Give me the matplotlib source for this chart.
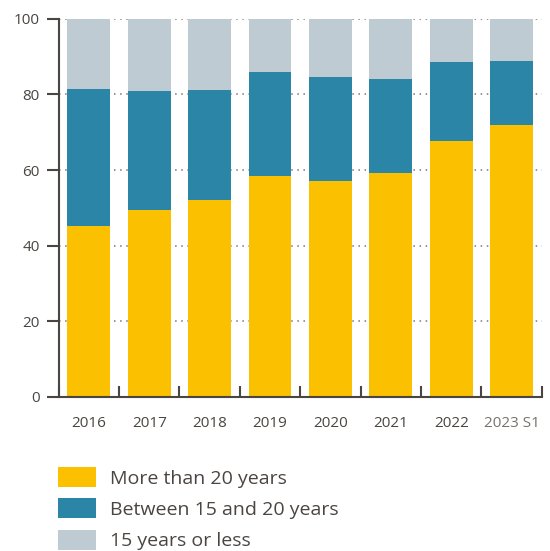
import matplotlib
matplotlib.use("Agg")
import matplotlib.pyplot as plt
import numpy as np

plt.rcParams['font.family'] = ['Open Sans', 'DejaVu Sans']

# share of portfolio by remaining maturity, in %
periods = ['2016', '2017', '2018', '2019', '2020', '2021', '2022', '2023 S1']
more_than_20 = [45.2, 49.4, 52.1, 58.4, 57.1, 59.2, 67.7, 71.9]
between_15_20 = [36.2, 31.5, 29.1, 27.5, 27.5, 24.9, 20.9, 16.9]
less_than_15 = [18.6, 19.1, 18.8, 14.1, 15.4, 15.9, 11.4, 11.2]
series_labels = ['More than 20 years', 'Between 15 and 20 years', '15 years or less']

YELLOW = '#FBC000'
BLUE = '#2A85A7'
GREY = '#BECBD3'
TEXT = '#4A4540'

fig = plt.figure(figsize=(5.5, 5.51), dpi=100)
ax = fig.add_axes([0.1067, 0.2795, 0.8784, 0.6866])

x = np.arange(len(periods))
w = 0.71
b1 = ax.bar(x, more_than_20, width=w, color=YELLOW, zorder=2)
b2 = ax.bar(x, between_15_20, width=w, bottom=more_than_20, color=BLUE, zorder=2)
bottom3 = np.array(more_than_20) + np.array(between_15_20)
b3 = ax.bar(x, less_than_15, width=w, bottom=bottom3, color=GREY, zorder=2)

ax.set_xlim(-0.5, len(periods) - 0.5)
ax.set_ylim(0, 100)
ax.set_yticks([0, 20, 40, 60, 80, 100])
ax.yaxis.grid(True, linestyle=(0, (1, 3)), color='#777777', linewidth=1.1, zorder=0)

for side in ['top', 'right']:
    ax.spines[side].set_visible(False)
for side in ['left', 'bottom']:
    ax.spines[side].set_color(TEXT)
    ax.spines[side].set_linewidth(1.5)

ax.tick_params(axis='y', direction='out', length=8.5, width=1.5, color=TEXT,
               labelsize=11, labelcolor=TEXT, pad=5)
ax.set_xticks(x)
ax.set_xticklabels(periods)
ax.tick_params(axis='x', which='major', length=0, labelsize=11, labelcolor=TEXT, pad=14)
ax.set_xticks(np.arange(len(periods) + 1) - 0.5, minor=True)
ax.tick_params(axis='x', which='minor', direction='in', length=8, width=1.5, color=TEXT)
for lbl in ax.get_xticklabels():
    if lbl.get_text() == '2023 S1':
        lbl.set_color('#77726d')
    else:
        lbl.set_fontweight('medium')

fig.legend([b1, b2, b3], series_labels, loc='upper left',
           bbox_to_anchor=(0.105, 0.152), frameon=False, fontsize=14,
           handlelength=1.95, handleheight=1.2, handletextpad=0.75,
           labelspacing=0.55, labelcolor=TEXT, borderaxespad=0, borderpad=0)

fig.savefig('out.png', dpi=100)
